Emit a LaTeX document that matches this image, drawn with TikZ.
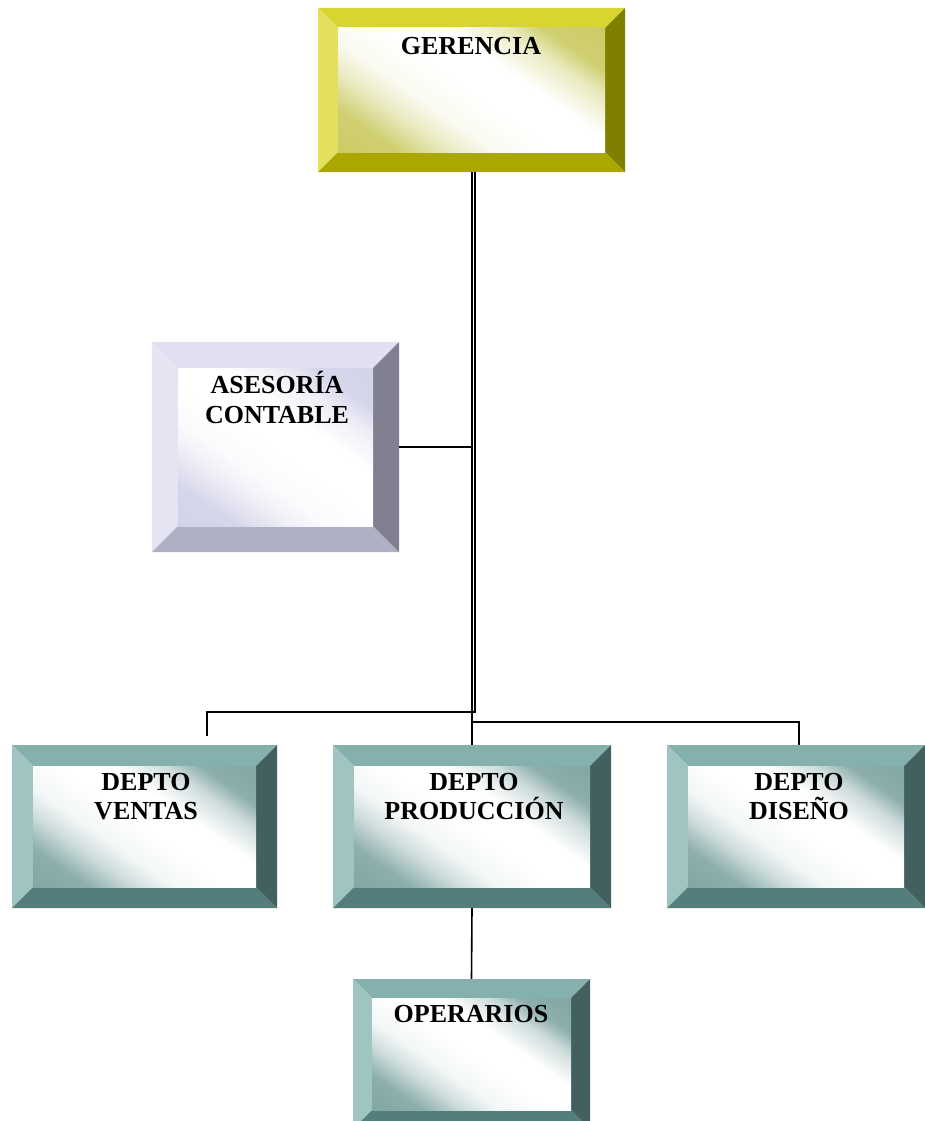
\documentclass[tikz,border=0pt]{standalone}
\usepackage{fontspec}
\setmainfont{Liberation Serif}
\usetikzlibrary{calc}
\definecolor{yT}{RGB}{216,213,48}
\definecolor{yL}{RGB}{226,224,94}
\definecolor{yB}{RGB}{170,168,0}
\definecolor{yR}{RGB}{128,128,0}
\definecolor{yI}{RGB}{196,196,80}
\definecolor{lT}{RGB}{224,224,240}
\definecolor{lL}{RGB}{228,228,242}
\definecolor{lB}{RGB}{176,176,196}
\definecolor{lR}{RGB}{128,128,144}
\definecolor{lI}{RGB}{204,204,230}
\definecolor{tT}{RGB}{132,176,174}
\definecolor{tL}{RGB}{160,196,194}
\definecolor{tB}{RGB}{84,126,124}
\definecolor{tR}{RGB}{66,96,96}
\definecolor{tI}{RGB}{112,154,152}
\pgfdeclareverticalshading{shY}{100bp}{color(0bp)=(yI); color(25bp)=(yI!80!white); color(33bp)=(yI!35!white); color(40bp)=(yI!8!white); color(50bp)=(white); color(60bp)=(white); color(69bp)=(yI!35!white); color(75bp)=(yI!80!white); color(100bp)=(yI)}
\pgfdeclareverticalshading{shL}{100bp}{color(0bp)=(lI); color(25bp)=(lI!80!white); color(33bp)=(lI!35!white); color(40bp)=(lI!8!white); color(50bp)=(white); color(60bp)=(white); color(69bp)=(lI!35!white); color(75bp)=(lI!80!white); color(100bp)=(lI)}
\pgfdeclareverticalshading{shT}{100bp}{color(0bp)=(tI); color(25bp)=(tI!80!white); color(33bp)=(tI!35!white); color(40bp)=(tI!8!white); color(50bp)=(white); color(60bp)=(white); color(69bp)=(tI!35!white); color(75bp)=(tI!80!white); color(100bp)=(tI)}
\tikzset{
  bw/.store in=\bvw, bw=21pt,
  bevelbox/.style n args={5}{rectangle, inner sep=0pt, draw=none,
    path picture={
      \coordinate (@sw) at (path picture bounding box.south west);
      \coordinate (@ne) at (path picture bounding box.north east);
      \coordinate (@nw) at (@sw|-@ne);
      \coordinate (@se) at (@ne|-@sw);
      \coordinate (@isw) at ($(@sw)+(\bvw,\bvw)$);
      \coordinate (@ine) at ($(@ne)+(-\bvw,-\bvw)$);
      \coordinate (@inw) at ($(@nw)+(\bvw,-\bvw)$);
      \coordinate (@ise) at ($(@se)+(-\bvw,\bvw)$);
      \fill[#1] (@nw) -- (@ne) -- (@ine) -- (@inw) -- cycle;
      \fill[#2] (@sw) -- (@nw) -- (@inw) -- (@isw) -- cycle;
      \fill[#3] (@sw) -- (@se) -- (@ise) -- (@isw) -- cycle;
      \fill[#4] (@se) -- (@ne) -- (@ine) -- (@ise) -- cycle;
      \shade[shading=#5, shading angle=-35] (@isw) rectangle (@ine);
    }},
  ybox/.style={bevelbox={yT}{yL}{yB}{yR}{shY}},
  lbox/.style={bevelbox={lT}{lL}{lB}{lR}{shL}},
  tbox/.style={bevelbox={tT}{tL}{tB}{tR}{shT}},
  lbl/.style={anchor=base, inner sep=0pt, font=\bfseries\fontsize{26}{30}\selectfont},
  conn/.style={line width=1.6pt, black},
}
\begin{document}
\begin{tikzpicture}[x=1pt,y=1pt]
\useasboundingbox (0,0) rectangle (925,-1121);
% boxes
\node[ybox, bw=20pt, minimum width=307pt, minimum height=164pt] (g) at (471.5,-90) {};
\node[lbox, bw=26pt, minimum width=247pt, minimum height=210pt] (a) at (275.5,-447) {};
\node[tbox, bw=21pt, minimum width=265pt, minimum height=163pt] (v) at (144.5,-826.5) {};
\node[tbox, bw=21pt, minimum width=278pt, minimum height=163pt] (p) at (472,-826.5) {};
\node[tbox, bw=21pt, minimum width=258pt, minimum height=163pt] (d) at (796,-826.5) {};
\node[tbox, bw=19pt, minimum width=237pt, minimum height=150pt] (o) at (471.5,-1054) {};
% texts
\node[lbl] (tg) at (471,-55) {GERENCIA};
\node[lbl] (ta1) at (277,-393) {ASESORÍA};
\node[lbl] (ta2) at (277,-423) {CONTABLE};
\node[lbl] (tv1) at (146,-790) {DEPTO};
\node[lbl] (tv2) at (146,-819) {VENTAS};
\node[lbl] (tp1) at (474,-790) {DEPTO};
\node[lbl] (tp2) at (474,-819) {PRODUCCIÓN};
\node[lbl] (td1) at (799,-790) {DEPTO};
\node[lbl] (td2) at (799,-819) {DISEÑO};
\node[lbl] (to) at (471,-1022) {OPERARIOS};
% connectors
\coordinate (vend) at ($(v.north)+(62.5,9)$);
\coordinate (dtop) at ($(d.north)+(3,0)$);
\draw[conn, line width=2pt] ($(g.south)+(0.1,0)$) -- ($(p.north)+(-0.4,0)$);
\draw[conn, line width=1.5pt] ($(g.south)+(3.4,0)$) |- ($(vend)+(0,24)$) -- (vend);
\draw[conn] ($(g.south)+(0.5,-550)$) -| (dtop);
\draw[conn] (a.east) -- ($(a.east)+(73,0)$);
\draw[conn] (p.south) -- (o.north);
\end{tikzpicture}
\end{document}
